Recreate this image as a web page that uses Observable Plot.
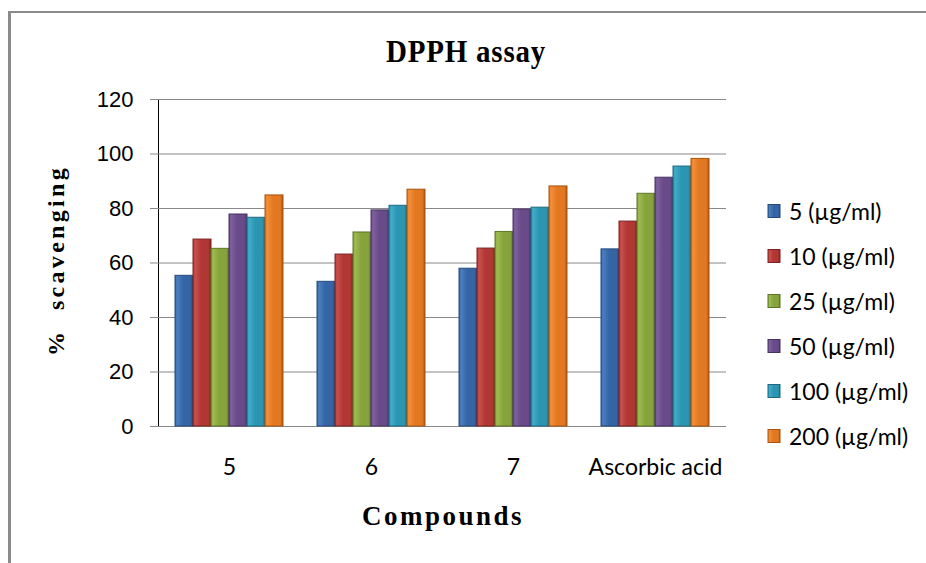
<!DOCTYPE html>
<html>
<head>
<meta charset="utf-8">
<script src="https://cdn.jsdelivr.net/npm/d3@7"></script>
<script src="https://cdn.jsdelivr.net/npm/@observablehq/plot@0.6"></script>
<style>
  html, body { margin: 0; padding: 0; background: #fff; overflow: hidden; }
  #wrap { position: relative; width: 926px; height: 563px; overflow: hidden; background: #fff; }
  #border { position: absolute; left: 8px; top: 11px; width: 940px; height: 600px;
            border-left: 3px solid #8a8a8a; border-top: 2px solid #8a8a8a; }
  #chart { position: absolute; left: 0; top: 0; }
  #overlay { position: absolute; left: 0; top: 0; pointer-events: none; }
</style>
</head>
<body>
<div id="wrap">
  <div id="border"></div>
  <div id="chart"></div>
  <svg id="overlay" width="926" height="563"></svg>
</div>
<script>
// ---- data ----
const groups = ["5", "6", "7", "Ascorbic acid"];
const series = ["5 (µg/ml)", "10 (µg/ml)", "25 (µg/ml)", "50 (µg/ml)", "100 (µg/ml)", "200 (µg/ml)"];
const compound5 = [55.3, 68.6, 65.2, 77.8, 76.6, 84.8];
const compound6 = [53.1, 63.1, 71.2, 79.3, 81.0, 86.9];
const compound7 = [57.9, 65.3, 71.4, 79.6, 80.3, 88.1];
const ascorbicAcid = [65.0, 75.2, 85.4, 91.3, 95.4, 98.2];
const yTicks = [0, 20, 40, 60, 80, 100, 120];
const titleText = "DPPH assay";
const xTitle = "Compounds";
const yTitle = "%  scavenging";
// colour triples: light, main, dark
const lights = ["#4a7fc0", "#c9504c", "#9dbb4f", "#7f60a0", "#41acc8", "#f48e38"];
const mains  = ["#3565a5", "#b03734", "#87a43c", "#694b89", "#2c95b2", "#e27822"];
const darks  = ["#254b7d", "#7d2322", "#5d7625", "#4a3264", "#1d6b82", "#a8540f"];

const valuesByGroup = [compound5, compound6, compound7, ascorbicAcid];
const data = [];
groups.forEach((g, gi) => series.forEach((s, si) => data.push({group: g, series: s, si, value: valuesByGroup[gi][si]})));

const plot = Plot.plot({
  width: 926,
  height: 563,
  marginLeft: 158,
  marginRight: 200,
  marginTop: 99,
  marginBottom: 137,
  style: {fontFamily: "'Liberation Sans', Arial, sans-serif", fontSize: "22px", color: "black", background: "transparent", overflow: "visible"},
  fx: {domain: groups, padding: 0, label: null, tickSize: 0, tickPadding: 32},
  x: {domain: series, paddingInner: 0, paddingOuter: 0.74, axis: null},
  y: {domain: [0, 120], ticks: yTicks, tickSize: 8, tickPadding: 17, label: null, line: true},
  color: {type: "identity"},
  marks: [
    Plot.ruleY(yTicks, {stroke: "#888", strokeWidth: 1}),
    Plot.barY(data, {fx: "group", x: "series", y: "value",
      fill: d => `url(#grad${d.si})`, stroke: d => darks[d.si], strokeWidth: 1})
  ]
});
document.getElementById("chart").appendChild(plot);

// gradients
function addDefs(svgEl) {
  const ns = "http://www.w3.org/2000/svg";
  const defs = document.createElementNS(ns, "defs");
  series.forEach((s, i) => {
    const lg = document.createElementNS(ns, "linearGradient");
    lg.setAttribute("id", "grad" + i);
    lg.setAttribute("x1", "0"); lg.setAttribute("x2", "1");
    lg.setAttribute("y1", "0"); lg.setAttribute("y2", "0");
    [[0, mains[i]], [0.12, lights[i]], [0.45, mains[i]], [0.85, mains[i]], [1, darks[i]]].forEach(([o, c]) => {
      const st = document.createElementNS(ns, "stop");
      st.setAttribute("offset", o);
      st.setAttribute("stop-color", c);
      lg.appendChild(st);
    });
    defs.appendChild(lg);
  });
  svgEl.insertBefore(defs, svgEl.firstChild);
}
const svgEl = plot.tagName.toLowerCase() === "svg" ? plot : plot.querySelector("svg");
addDefs(svgEl);

// axis styling
svgEl.querySelectorAll('[aria-label^="y-axis"] path, [aria-label^="y-axis"] line').forEach(e => e.setAttribute("stroke", "#888"));
svgEl.querySelectorAll('[aria-label^="y-axis"]').forEach(g => { if (g.getAttribute("stroke")) g.setAttribute("stroke", "#888"); });
svgEl.querySelectorAll('[aria-label^="fx-axis"]').forEach(g => {
  g.setAttribute("font-family", "Lato, 'Noto Sans', sans-serif");
  g.setAttribute("font-size", "23");
});
svgEl.querySelectorAll('[aria-label^="fx-axis"] text').forEach(t => {
  t.setAttribute("font-family", "Lato, 'Noto Sans', sans-serif");
  t.setAttribute("font-size", "23");
});

// overlay: titles and legend
const ov = d3.select("#overlay");
const serif = "'Liberation Serif', 'Times New Roman', serif";
ov.append("text").attr("transform", "translate(466,62) scale(1,1.12)").attr("text-anchor", "middle")
  .attr("font-family", serif).attr("font-weight", "bold").attr("font-size", 29)
  .attr("letter-spacing", "0.8px").text(titleText);
ov.append("text").attr("transform", "translate(443,525) scale(1,1.05)").attr("text-anchor", "middle")
  .attr("font-family", serif).attr("font-weight", "bold").attr("font-size", 27)
  .attr("letter-spacing", "2.5px").text(xTitle);
ov.append("text").attr("transform", "translate(64,260.5) rotate(-90)").attr("text-anchor", "middle")
  .attr("font-family", serif).attr("font-weight", "bold").attr("font-size", 24)
  .attr("letter-spacing", "3.3px").style("white-space", "pre").text(yTitle);

const leg = ov.append("g");
series.forEach((s, i) => {
  const base = 219.5 + 45 * i;
  leg.append("rect").attr("x", 768).attr("y", base - 15).attr("width", 12).attr("height", 13)
    .attr("fill", `url(#grad${i})`).attr("stroke", darks[i]).attr("stroke-width", 1);
  leg.append("text").attr("x", 789).attr("y", base)
    .attr("font-family", "Lato, 'Noto Sans', sans-serif").attr("font-size", 23).attr("fill", "#000").text(s);
});
</script>
</body>
</html>
